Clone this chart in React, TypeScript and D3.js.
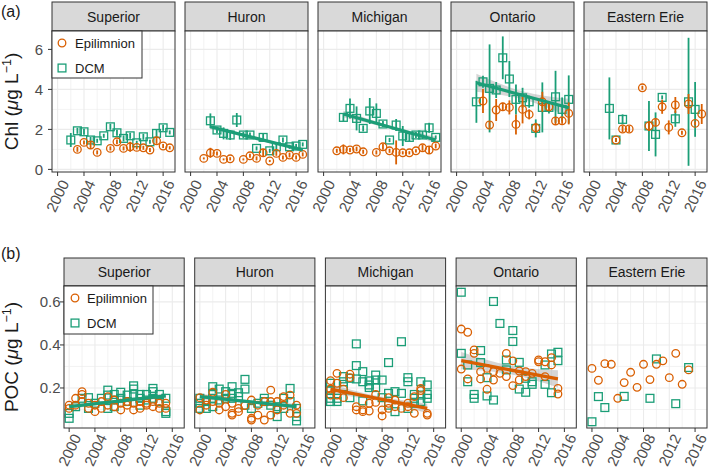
import React from "react";
import * as d3 from "d3";

const EPI_COLOR = "#D95F02";
const DCM_COLOR = "#1B9E77";

const lakes = ["Superior", "Huron", "Michigan", "Ontario", "Eastern Erie"];
const yearTicks = [2000, 2004, 2008, 2012, 2016];
const yearMinor = [2002, 2006, 2010, 2014];
const chlTicks = [0, 2, 4, 6];
const chlMinor = [1, 3, 5];
const pocTicks = [0.2, 0.4, 0.6];
const pocMinor = [0.1, 0.3, 0.5];
const legendLabels = ["Epilimnion", "DCM"];

// (a) Chl: [year, mean, error half-width]
const chlSuperiorEpi = [[2003,1.0,0.12],[2004,1.35,0.1],[2005,1.22,0.2],[2006,0.85,0.1],[2008,1.05,0.1],[2009,1.38,0.12],[2010,1.05,0.1],[2011,1.13,0.25],[2012,1.1,0.1],[2013,1.08,0.1],[2014,0.97,0.1],[2015,1.43,0.15],[2016,1.17,0.1],[2017,1.08,0.08]];
const chlSuperiorDcm = [[2002,1.47,0.35],[2003,1.93,0.15],[2004,1.88,0.15],[2005,1.47,0.15],[2006,1.43,0.1],[2007,1.68,0.1],[2008,2.13,0.15],[2009,1.83,0.15],[2010,1.55,0.15],[2011,1.68,0.15],[2012,1.33,0.1],[2013,1.63,0.15],[2014,1.38,0.1],[2015,1.8,0.2],[2016,2.08,0.15],[2017,1.85,0.1]];
const chlHuronEpi = [[2002,0.55,0.05],[2003,0.83,0.25],[2004,0.8,0.1],[2005,0.5,0.05],[2006,0.53,0.08],[2008,0.5,0.05],[2009,0.68,0.1],[2010,0.55,0.1],[2011,0.83,0.2],[2012,0.42,0.05],[2013,0.8,0.12],[2014,0.6,0.1],[2015,0.72,0.12],[2016,0.6,0.1],[2017,0.75,0.1]];
const chlHuronDcm = [[2003,2.43,0.37],[2004,1.97,0.15],[2005,1.8,0.3],[2006,1.72,0.25],[2007,2.47,0.35],[2008,1.72,0.15],[2009,1.72,0.12],[2010,1.05,0.1],[2011,1.6,0.2],[2012,0.93,0.1],[2013,1.13,0.15],[2014,1.47,0.12],[2015,1.13,0.1],[2016,1.17,0.1],[2017,1.25,0.1]];
const chlMichiganEpi = [[2002,0.93,0.1],[2003,1.0,0.25],[2004,0.97,0.1],[2005,1.02,0.12],[2006,0.88,0.1],[2008,0.85,0.1],[2009,1.13,0.15],[2010,0.93,0.1],[2011,0.85,0.6],[2012,0.83,0.08],[2013,0.83,0.08],[2014,0.93,0.08],[2015,1.08,0.15],[2016,0.97,0.2],[2017,1.17,0.12]];
const chlMichiganDcm = [[2003,2.6,0.2],[2004,3.05,0.5],[2005,2.55,0.6],[2006,2.05,0.15],[2007,2.92,0.65],[2008,2.8,0.5],[2009,2.27,0.15],[2010,1.47,0.1],[2011,2.22,0.3],[2012,1.67,0.5],[2013,1.6,0.2],[2014,1.72,0.15],[2015,1.72,0.2],[2016,2.08,0.25],[2017,1.6,0.1]];
const chlOntarioEpi = [[2004,3.42,0.6],[2005,2.22,0.15],[2006,2.97,0.55],[2007,3.13,0.2],[2008,3.1,0.35],[2009,2.25,0.5],[2010,3.0,0.7],[2011,2.75,0.25],[2012,2.08,0.25],[2013,3.38,0.5],[2014,3.13,0.2],[2015,2.42,0.2],[2016,2.43,0.15],[2017,2.8,0.55]];
const chlOntarioDcm = [[2003,3.38,1.05],[2004,4.38,0.3],[2005,4.05,2.2],[2006,3.97,0.4],[2007,5.58,1.07],[2008,4.52,0.9],[2009,3.5,0.75],[2010,3.58,0.5],[2011,3.38,0.3],[2012,2.05,0.45],[2013,3.1,1.25],[2014,3.1,0.3],[2015,3.63,1.3],[2016,3.0,0.6],[2017,3.5,1.2]];
const chlErieEpi = [[2004,1.47,0.1],[2005,2.02,0.15],[2006,2.02,0.15],[2008,4.08,0.1],[2009,2.17,0.25],[2010,2.35,0.2],[2011,3.13,0.35],[2012,2.1,0.35],[2013,3.22,0.4],[2014,1.83,0.1],[2015,3.27,0.5],[2016,2.3,0.1],[2017,2.77,0.5]];
const chlErieDcm = [[2003,3.05,1.55],[2004,1.47,0.1],[2005,2.5,0.25],[2009,2.17,1.25],[2010,1.75,1.1],[2011,3.6,0.1],[2013,2.53,0.4],[2015,3.38,3.2],[2016,3.0,1.37]];

// (a) fitted trends: [x0, y0, x1, y1, ci at ends, ci at middle]
const chlHuronTrend = [2003, 2.13, 2017, 0.97, 0.12, 0.06];
const chlMichiganTrend = [2003, 2.77, 2017, 1.47, 0.16, 0.08];
const chlOntarioTrend = [2003, 4.33, 2017, 3.08, 0.45, 0.2];

// (b) POC: [year, value]
const pocSuperiorEpi = [[2000,0.12],[2000,0.105],[2001,0.152],[2001,0.12],[2002,0.183],[2002,0.17],[2002,0.137],[2003,0.105],[2003,0.129],[2004,0.09],[2004,0.12],[2005,0.137],[2005,0.105],[2006,0.16],[2006,0.12],[2007,0.144],[2007,0.113],[2008,0.098],[2008,0.129],[2009,0.12],[2009,0.137],[2010,0.098],[2010,0.129],[2011,0.105],[2011,0.137],[2012,0.12],[2012,0.129],[2013,0.113],[2013,0.137],[2014,0.129],[2014,0.105],[2015,0.105],[2015,0.129]];
const pocSuperiorDcm = [[2000,0.059],[2000,0.082],[2001,0.113],[2002,0.152],[2003,0.155],[2003,0.105],[2004,0.129],[2005,0.152],[2006,0.19],[2006,0.167],[2006,0.105],[2007,0.17],[2007,0.144],[2007,0.113],[2008,0.18],[2008,0.152],[2009,0.167],[2009,0.137],[2010,0.21],[2010,0.195],[2010,0.17],[2011,0.17],[2011,0.152],[2011,0.12],[2012,0.17],[2012,0.144],[2013,0.198],[2013,0.183],[2013,0.152],[2014,0.17],[2014,0.137],[2015,0.152],[2015,0.09],[2015,0.082]];
const pocHuronEpi = [[2000,0.155],[2000,0.098],[2001,0.144],[2001,0.12],[2002,0.18],[2002,0.137],[2003,0.129],[2003,0.098],[2004,0.17],[2004,0.113],[2005,0.129],[2005,0.082],[2005,0.074],[2006,0.105],[2006,0.09],[2007,0.118],[2008,0.144],[2008,0.059],[2008,0.051],[2009,0.12],[2009,0.074],[2010,0.137],[2010,0.051],[2011,0.19],[2011,0.137],[2011,0.074],[2012,0.098],[2012,0.137],[2013,0.16],[2013,0.12],[2014,0.167],[2014,0.082],[2015,0.12],[2015,0.082]];
const pocHuronDcm = [[2000,0.152],[2000,0.129],[2000,0.105],[2001,0.105],[2001,0.137],[2002,0.206],[2002,0.175],[2002,0.152],[2002,0.113],[2003,0.195],[2003,0.144],[2004,0.183],[2004,0.152],[2005,0.206],[2005,0.175],[2005,0.152],[2006,0.178],[2006,0.16],[2007,0.24],[2007,0.195],[2007,0.12],[2008,0.105],[2009,0.129],[2010,0.152],[2010,0.137],[2011,0.12],[2012,0.113],[2012,0.067],[2013,0.152],[2013,0.105],[2014,0.198],[2014,0.137],[2015,0.105],[2015,0.067],[2015,0.047]];
const pocMichiganEpi = [[2000,0.234],[2000,0.195],[2000,0.167],[2001,0.268],[2001,0.222],[2001,0.167],[2002,0.194],[2002,0.155],[2003,0.264],[2003,0.248],[2004,0.113],[2004,0.098],[2005,0.098],[2005,0.09],[2006,0.129],[2006,0.093],[2007,0.17],[2007,0.133],[2008,0.098],[2008,0.07],[2009,0.155],[2009,0.129],[2009,0.105],[2010,0.144],[2010,0.113],[2011,0.105],[2012,0.129],[2012,0.113],[2013,0.16],[2013,0.082],[2014,0.198],[2014,0.188],[2015,0.082],[2015,0.074]];
const pocMichiganDcm = [[2000,0.222],[2000,0.19],[2000,0.152],[2000,0.137],[2001,0.152],[2001,0.137],[2002,0.253],[2002,0.229],[2002,0.206],[2003,0.245],[2003,0.155],[2004,0.405],[2004,0.304],[2004,0.242],[2005,0.276],[2005,0.229],[2005,0.14],[2006,0.233],[2006,0.214],[2006,0.202],[2007,0.26],[2007,0.237],[2007,0.202],[2008,0.237],[2008,0.155],[2009,0.318],[2009,0.175],[2009,0.12],[2010,0.183],[2010,0.09],[2011,0.415],[2011,0.175],[2012,0.248],[2012,0.229],[2012,0.105],[2013,0.17],[2013,0.152],[2013,0.129],[2014,0.229],[2014,0.167],[2014,0.137],[2015,0.214],[2015,0.17],[2015,0.152]];
const pocOntarioEpi = [[2000,0.474],[2000,0.288],[2001,0.459],[2001,0.242],[2002,0.377],[2002,0.361],[2003,0.276],[2003,0.242],[2004,0.291],[2004,0.194],[2005,0.237],[2005,0.276],[2006,0.268],[2007,0.361],[2007,0.253],[2008,0.326],[2008,0.211],[2009,0.237],[2009,0.279],[2010,0.276],[2010,0.253],[2011,0.268],[2012,0.33],[2012,0.322],[2013,0.253],[2013,0.322],[2014,0.341],[2014,0.307],[2015,0.198],[2015,0.172]];
const pocOntarioDcm = [[2000,0.645],[2000,0.361],[2001,0.307],[2001,0.229],[2002,0.17],[2002,0.152],[2003,0.374],[2003,0.318],[2004,0.248],[2004,0.163],[2005,0.602],[2005,0.144],[2006,0.5],[2007,0.33],[2007,0.284],[2008,0.467],[2008,0.416],[2009,0.319],[2009,0.195],[2010,0.245],[2010,0.18],[2011,0.229],[2011,0.217],[2013,0.307],[2013,0.217],[2014,0.358],[2014,0.178],[2015,0.366],[2015,0.327]];
const pocErieEpi = [[2000,0.291],[2001,0.236],[2002,0.313],[2003,0.31],[2004,0.152],[2005,0.225],[2006,0.273],[2007,0.203],[2008,0.31],[2009,0.239],[2010,0.31],[2011,0.326],[2012,0.248],[2013,0.361],[2014,0.217],[2015,0.284]];
const pocErieDcm = [[2000,0.043],[2001,0.16],[2002,0.109],[2005,0.161],[2009,0.152],[2010,0.335],[2013,0.127],[2015,0.295]];

// (b) fitted trends: [x0, y0, x1, y1, ci at ends, ci at middle]
const pocSuperiorTrend = [2000, 0.113, 2015, 0.163, 0.012, 0.006];
const pocHuronTrend = [2000, 0.16, 2015, 0.113, 0.014, 0.007];
const pocMichiganTrend = [2000, 0.195, 2015, 0.105, 0.022, 0.011];
const pocOntarioTrend = [2000, 0.327, 2015, 0.242, 0.04, 0.02];

const chlEpi = [chlSuperiorEpi, chlHuronEpi, chlMichiganEpi, chlOntarioEpi, chlErieEpi];
const chlDcm = [chlSuperiorDcm, chlHuronDcm, chlMichiganDcm, chlOntarioDcm, chlErieDcm];
const chlTrend = [null, chlHuronTrend, chlMichiganTrend, chlOntarioTrend, null];
const chlTrendSeries = ["dcm", "dcm", "dcm", "dcm", "dcm"];
const pocEpi = [pocSuperiorEpi, pocHuronEpi, pocMichiganEpi, pocOntarioEpi, pocErieEpi];
const pocDcm = [pocSuperiorDcm, pocHuronDcm, pocMichiganDcm, pocOntarioDcm, pocErieDcm];
const pocTrend = [pocSuperiorTrend, pocHuronTrend, pocMichiganTrend, pocOntarioTrend, null];
const pocTrendSeries = ["dcm", "dcm", "epi", "epi", "epi"];

const FONT = "'Liberation Sans', Arial, Helvetica, sans-serif";
const GRID = "#EBEBEB";
const BORDER = "#333333";
const TICKTXT = "#4D4D4D";
const TICK_FS = 15;

function Circle({ cx, cy, color }: any) {
  return <circle cx={cx} cy={cy} r={3.8} fill="none" stroke={color} strokeWidth={1.3} />;
}
function Square({ cx, cy, color }: any) {
  const s = 7.8;
  return <rect x={cx - s / 2} y={cy - s / 2} width={s} height={s} fill="none" stroke={color} strokeWidth={1.3} />;
}

function Panel(props: any) {
  const { left, width, stripTop, top, bottom, lake, xDomain, yDomain, yTicks, yMinor, epi, dcm, trend, trendSeries, errors, showY, yLabelEnd, yFmt, xLabDx, xLabDy, legend } = props;
  const x = d3.scaleLinear().domain(xDomain).range([left, left + width]);
  const y = d3.scaleLinear().domain(yDomain).range([bottom, top]);
  const inY = (v: number) => v >= yDomain[0] && v <= yDomain[1];
  let ribbon: string | null = null;
  let line: string | null = null;
  let trendColor = DCM_COLOR;
  if (trend) {
    const [x0, y0, x1, y1, ce, cm] = trend;
    const xm = (x0 + x1) / 2;
    const pts = [
      { x: x0, y: y0, c: ce },
      { x: xm, y: (y0 + y1) / 2, c: cm },
      { x: x1, y: y1, c: ce },
    ];
    ribbon = d3
      .area<any>()
      .x((d) => x(d.x))
      .y0((d) => y(d.y - d.c))
      .y1((d) => y(d.y + d.c))
      .curve(d3.curveNatural)(pts);
    line = d3.line<any>().x((d) => x(d.x)).y((d) => y(d.y))([pts[0], pts[2]]);
    trendColor = trendSeries === "epi" ? EPI_COLOR : DCM_COLOR;
  }
  return (
    <g>
      <rect x={left} y={stripTop} width={width} height={top - stripTop} fill="#D9D9D9" stroke={BORDER} strokeWidth={1} />
      <text x={left + width / 2} y={(stripTop + top) / 2} dy="0.36em" textAnchor="middle" fontSize={14} fill="#1A1A1A">{lake}</text>
      <rect x={left} y={top} width={width} height={bottom - top} fill="#FFFFFF" />
      {yMinor.filter(inY).map((v: number) => (
        <line key={"ym" + v} x1={left} x2={left + width} y1={y(v)} y2={y(v)} stroke={GRID} strokeWidth={0.6} />
      ))}
      {yearMinor.map((v) => (
        <line key={"xm" + v} x1={x(v)} x2={x(v)} y1={top} y2={bottom} stroke={GRID} strokeWidth={0.6} />
      ))}
      {yTicks.filter(inY).map((v: number) => (
        <line key={"yM" + v} x1={left} x2={left + width} y1={y(v)} y2={y(v)} stroke={GRID} strokeWidth={1.1} />
      ))}
      {yearTicks.map((v) => (
        <line key={"xM" + v} x1={x(v)} x2={x(v)} y1={top} y2={bottom} stroke={GRID} strokeWidth={1.1} />
      ))}
      {ribbon && <path d={ribbon} fill="#999999" fillOpacity={0.4} stroke="none" />}
      {errors && dcm.map((d: number[], i: number) => (
        <line key={"de" + i} x1={x(d[0])} x2={x(d[0])} y1={y(d[1] - d[2])} y2={y(d[1] + d[2])} stroke={DCM_COLOR} strokeWidth={1.8} />
      ))}
      {dcm.map((d: number[], i: number) => (
        <Square key={"d" + i} cx={x(d[0])} cy={y(d[1])} color={DCM_COLOR} />
      ))}
      {errors && epi.map((d: number[], i: number) => (
        <line key={"ee" + i} x1={x(d[0])} x2={x(d[0])} y1={y(d[1] - d[2])} y2={y(d[1] + d[2])} stroke={EPI_COLOR} strokeWidth={1.8} />
      ))}
      {epi.map((d: number[], i: number) => (
        <Circle key={"e" + i} cx={x(d[0])} cy={y(d[1])} color={EPI_COLOR} />
      ))}
      {line && <path d={line} fill="none" stroke={trendColor} strokeWidth={3.2} />}
      <rect x={left} y={top} width={width} height={bottom - top} fill="none" stroke={BORDER} strokeWidth={1} />
      {yearTicks.map((v) => (
        <g key={"xt" + v}>
          <line x1={x(v)} x2={x(v)} y1={bottom} y2={bottom + 4} stroke={BORDER} strokeWidth={1} />
          <text transform={`translate(${x(v) + xLabDx},${bottom + xLabDy}) rotate(-65)`} textAnchor="middle" dy="0.35em" fontSize={TICK_FS} fill={TICKTXT}>{v}</text>
        </g>
      ))}
      {showY && yTicks.filter(inY).map((v: number) => (
        <g key={"yt" + v}>
          <line x1={left - 4} x2={left} y1={y(v)} y2={y(v)} stroke={BORDER} strokeWidth={1} />
          <text x={yLabelEnd} y={y(v)} dy="0.36em" textAnchor="end" fontSize={TICK_FS} fill={TICKTXT}>{yFmt(v)}</text>
        </g>
      ))}
      {legend && (
        <g>
          <rect x={left} y={top} width={legend.w} height={legend.h} fill="#FFFFFF" stroke={BORDER} strokeWidth={1} />
          <Circle cx={left + legend.kx} cy={top + 12} color={EPI_COLOR} />
          <text x={left + 23} y={top + 12} dy="0.36em" fontSize={13} fill="#1A1A1A">{legendLabels[0]}</text>
          <Square cx={left + legend.kx} cy={top + 37} color={DCM_COLOR} />
          <text x={left + 23} y={top + 37} dy="0.36em" fontSize={13} fill="#1A1A1A">{legendLabels[1]}</text>
        </g>
      )}
    </g>
  );
}

export default function App() {
  const topW = 123, topGap = 10, topLeft = 52;
  const botW = 120.2, botGap = 10.5, botLeft = 64;
  return (
    <svg width={709} height={469} style={{ display: "block", position: "absolute", left: 0, top: 0 }} fontFamily={FONT}>
      <rect width={709} height={469} fill="#FFFFFF" />
      <text x={1} y={17} fontSize={16} fill="#1A1A1A">(a)</text>
      <text x={1} y={259} fontSize={16} fill="#1A1A1A">(b)</text>
      <text transform="translate(18,101.5) rotate(-90)" textAnchor="middle" fontSize={19} fill="#1A1A1A">
        Chl (<tspan fontStyle="italic">μ</tspan>g L<tspan fontSize={12.5} dy={-7.5}>−1</tspan><tspan dy={7.5}>)</tspan>
      </text>
      <text transform="translate(18,357) rotate(-90)" textAnchor="middle" fontSize={19} fill="#1A1A1A">
        POC (<tspan fontStyle="italic">μ</tspan>g L<tspan fontSize={12.5} dy={-7.5}>−1</tspan><tspan dy={7.5}>)</tspan>
      </text>
      {lakes.map((lake, i) => (
        <Panel
          key={"a" + lake}
          left={topLeft + i * (topW + topGap)}
          width={topW}
          stripTop={2}
          top={31}
          bottom={172}
          lake={lake}
          xDomain={[1999.15, 2017.8]}
          yDomain={[-0.13, 6.92]}
          yTicks={chlTicks}
          yMinor={chlMinor}
          epi={chlEpi[i]}
          dcm={chlDcm[i]}
          trend={chlTrend[i]}
          trendSeries={chlTrendSeries[i]}
          errors={true}
          showY={i === 0}
          yLabelEnd={43}
          yFmt={(v: number) => String(v)}
          xLabDx={0}
          xLabDy={24}
          legend={i === 0 ? { w: 90, h: 47, kx: 10 } : null}
        />
      ))}
      {lakes.map((lake, i) => (
        <Panel
          key={"b" + lake}
          left={botLeft + i * (botW + botGap)}
          width={botW}
          stripTop={258}
          top={286}
          bottom={428}
          lake={lake}
          xDomain={[1999.2, 2017.85]}
          yDomain={[0.014, 0.674]}
          yTicks={pocTicks}
          yMinor={pocMinor}
          epi={pocEpi[i]}
          dcm={pocDcm[i]}
          trend={pocTrend[i]}
          trendSeries={pocTrendSeries[i]}
          errors={false}
          showY={i === 0}
          yLabelEnd={60.5}
          yFmt={(v: number) => v.toFixed(1)}
          xLabDx={0.5}
          xLabDy={22}
          legend={i === 0 ? { w: 89, h: 48, kx: 11 } : null}
        />
      ))}
    </svg>
  );
}
